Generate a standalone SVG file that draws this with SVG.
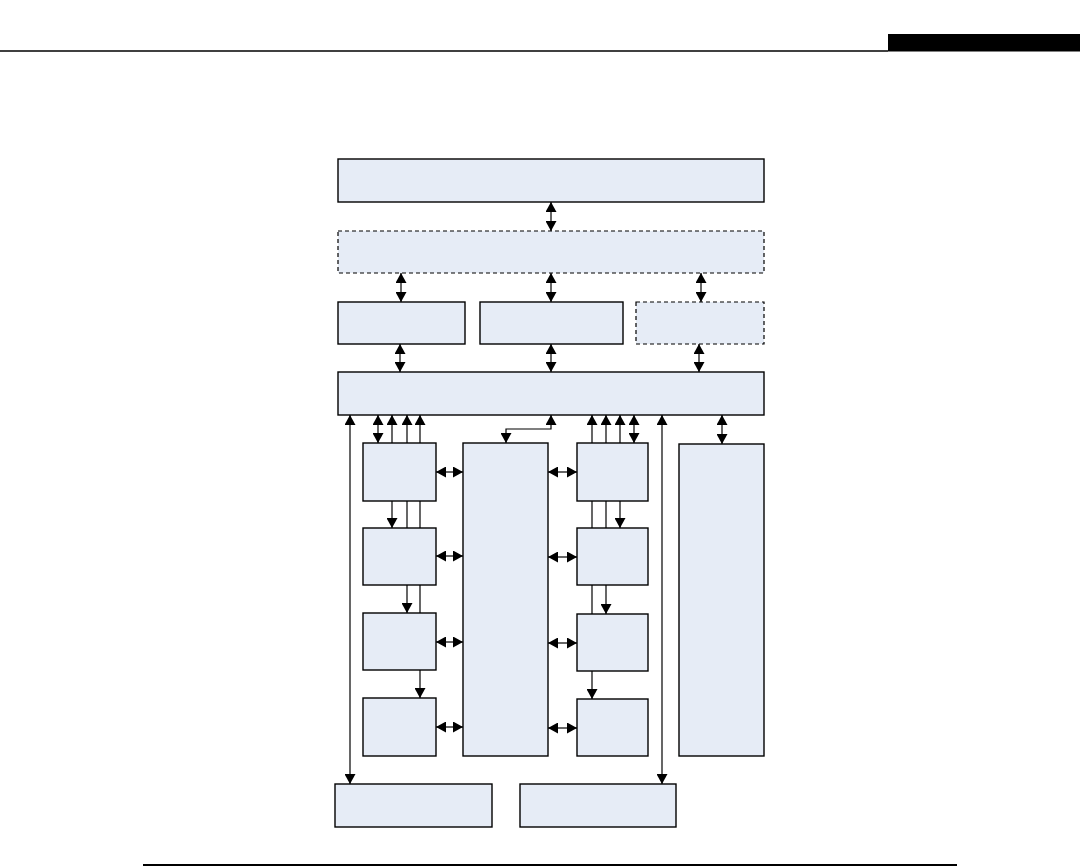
<svg xmlns="http://www.w3.org/2000/svg" width="1080" height="867" viewBox="0 0 1080 867">
<style>
.n{fill:#E6ECF6;stroke:#000;stroke-width:1.4}
.d{fill:#E6ECF6;stroke:#000;stroke-width:1.2;stroke-dasharray:4,3}
.c{fill:none;stroke:#000;stroke-width:1.2}
.b{marker-start:url(#ah);marker-end:url(#ah)}
.e{marker-end:url(#ah)}
</style>
<defs>
<marker id="ah" viewBox="0 0 10 10" refX="10" refY="5" markerWidth="10" markerHeight="11" markerUnits="userSpaceOnUse" orient="auto-start-reverse" preserveAspectRatio="none">
<path d="M0,0 L10,5 L0,10 z" fill="#000"/>
</marker>
</defs>
<rect x="0" y="0" width="1080" height="867" fill="#fff"/>
<g id="header">
<line x1="0" y1="51" x2="888" y2="51" stroke="#000" stroke-width="1.3"/>
<rect x="888" y="34" width="192" height="17.5" fill="#000"/>
</g>
<g id="footer"><line x1="143" y1="865" x2="957" y2="865" stroke="#000" stroke-width="2"/></g>
<g id="connectors">
<line class="c b" x1="551" y1="202" x2="551" y2="231"/>
<line class="c b" x1="401" y1="273" x2="401" y2="302"/>
<line class="c b" x1="551" y1="273" x2="551" y2="302"/>
<line class="c b" x1="701" y1="273" x2="701" y2="302"/>
<line class="c b" x1="400" y1="344" x2="400" y2="372"/>
<line class="c b" x1="551" y1="344" x2="551" y2="372"/>
<line class="c b" x1="699" y1="344" x2="699" y2="372"/>
<line class="c b" x1="350" y1="415" x2="350" y2="784"/>
<line class="c b" x1="662" y1="415" x2="662" y2="784"/>
<line class="c b" x1="722" y1="415" x2="722" y2="444"/>
<line class="c b" x1="378" y1="415" x2="378" y2="443"/>
<line class="c b" x1="392" y1="415" x2="392" y2="528"/>
<line class="c b" x1="407" y1="415" x2="407" y2="613"/>
<line class="c b" x1="420" y1="415" x2="420" y2="698"/>
<line class="c b" x1="634" y1="415" x2="634" y2="443"/>
<line class="c b" x1="620" y1="415" x2="620" y2="528"/>
<line class="c b" x1="606" y1="415" x2="606" y2="614"/>
<line class="c b" x1="592" y1="415" x2="592" y2="699"/>
<path class="c b" d="M551,415 V429 H506 V443"/>
<line class="c b" x1="436" y1="472" x2="463" y2="472"/>
<line class="c b" x1="436" y1="556" x2="463" y2="556"/>
<line class="c b" x1="436" y1="642" x2="463" y2="642"/>
<line class="c b" x1="436" y1="727" x2="463" y2="727"/>
<line class="c b" x1="548" y1="472" x2="577" y2="472"/>
<line class="c b" x1="548" y1="557" x2="577" y2="557"/>
<line class="c b" x1="548" y1="643" x2="577" y2="643"/>
<line class="c b" x1="548" y1="728" x2="577" y2="728"/>
</g>
<g id="top"><rect class="n" x="338" y="159" width="426" height="43"/></g>
<g id="layer2"><rect class="d" x="338" y="231" width="426" height="42"/></g>
<g id="m1"><rect class="n" x="338" y="302" width="127" height="42"/></g>
<g id="m2"><rect class="n" x="480" y="302" width="143" height="42"/></g>
<g id="m3"><rect class="d" x="636" y="302" width="128" height="42"/></g>
<g id="bus"><rect class="n" x="338" y="372" width="426" height="43"/></g>
<g id="l1"><rect class="n" x="363" y="443" width="73" height="58"/></g>
<g id="l2"><rect class="n" x="363" y="528" width="73" height="57"/></g>
<g id="l3"><rect class="n" x="363" y="613" width="73" height="57"/></g>
<g id="l4"><rect class="n" x="363" y="698" width="73" height="58"/></g>
<g id="center"><rect class="n" x="463" y="443" width="85" height="313"/></g>
<g id="r1"><rect class="n" x="577" y="443" width="71" height="58"/></g>
<g id="r2"><rect class="n" x="577" y="528" width="71" height="57"/></g>
<g id="r3"><rect class="n" x="577" y="614" width="71" height="57"/></g>
<g id="r4"><rect class="n" x="577" y="699" width="71" height="57"/></g>
<g id="side"><rect class="n" x="679" y="444" width="85" height="312"/></g>
<g id="b1"><rect class="n" x="335" y="784" width="157" height="43"/></g>
<g id="b2"><rect class="n" x="520" y="784" width="156" height="43"/></g>
</svg>
